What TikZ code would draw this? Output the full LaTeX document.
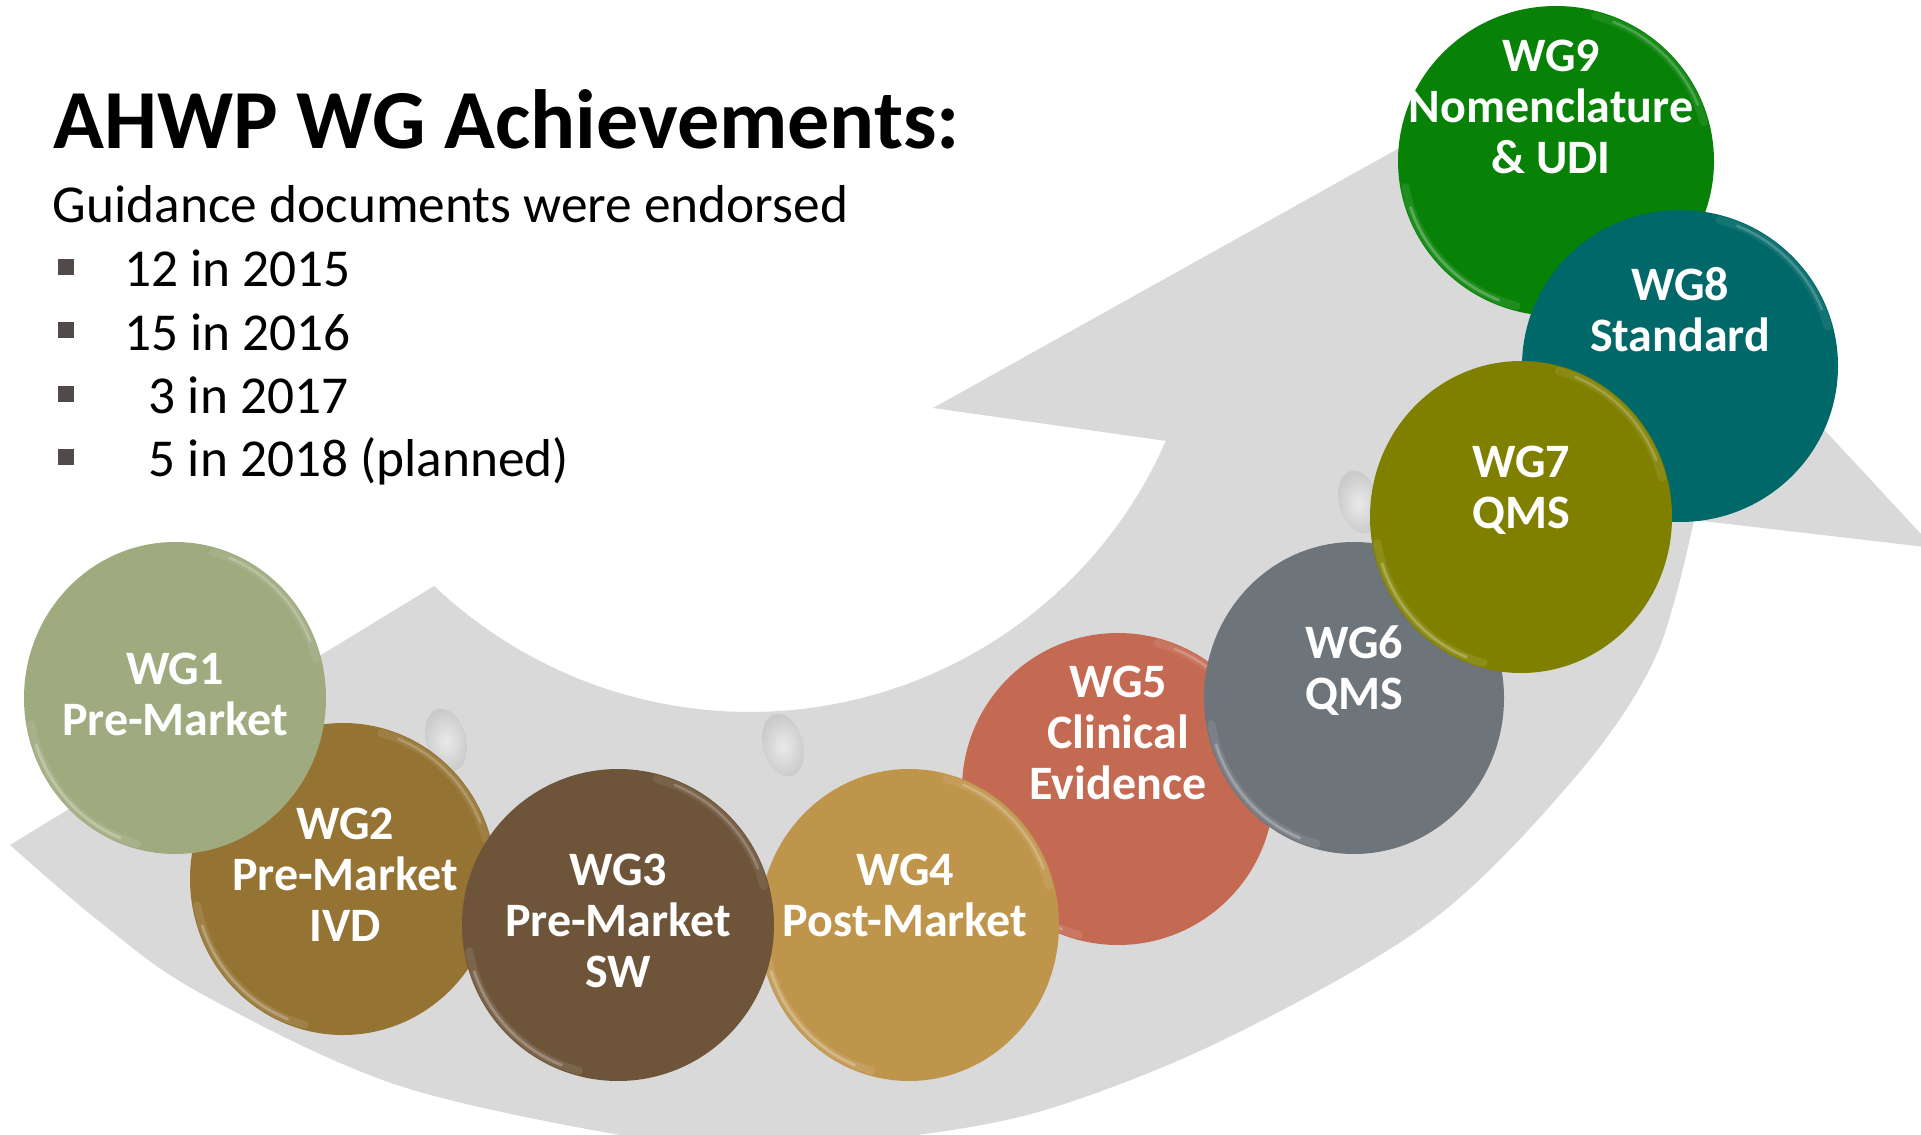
\documentclass[tikz,border=0pt]{standalone}
\usepackage{fontspec}
\setmainfont{Carlito}
\usetikzlibrary{shapes.geometric}
\definecolor{bandgray}{HTML}{D9D9D9}
\definecolor{bulletc}{HTML}{524A48}
\definecolor{cwga}{HTML}{9FAA7E}
\definecolor{cwgb}{HTML}{957333}
\definecolor{cwgc}{HTML}{6E553A}
\definecolor{cwgd}{HTML}{BF954C}
\definecolor{cwge}{HTML}{C56A52}
\definecolor{cwgf}{HTML}{6D747A}
\definecolor{cwgg}{HTML}{808000}
\definecolor{cwgh}{HTML}{006868}
\definecolor{cwgi}{HTML}{078207}
\newcommand\diskrim[4]{%
  \draw[shift={(#1.center)}, line width=6pt, #2!55!white, opacity=.22, line cap=round]
    (105:#3 and #4) arc[start angle=105, end angle=170, x radius=#3, y radius=#4];
  \draw[shift={(#1.center)}, line width=2.2pt, #2!45!white, opacity=.5, line cap=round]
    (112:#3 and #4) arc[start angle=112, end angle=162, x radius=#3, y radius=#4];
  \draw[shift={(#1.center)}, line width=6pt, #2!55!white, opacity=.18, line cap=round]
    (285:#3 and #4) arc[start angle=285, end angle=345, x radius=#3, y radius=#4];
  \draw[shift={(#1.center)}, line width=2pt, #2!45!white, opacity=.4, line cap=round]
    (292:#3 and #4) arc[start angle=292, end angle=338, x radius=#3, y radius=#4];}
\begin{document}
\begin{tikzpicture}[x=0.75pt, y=-0.75pt,
  disk/.style n args={3}{ellipse, draw=none, fill=#1, inner sep=0pt,
      minimum width=#2*1.5pt, minimum height=#3*1.5pt},
  lbl/.style={text=white, font=\fontsize{36}{38.25}\selectfont\bfseries, align=center, inner sep=0pt},
  sq/.style={rectangle, fill=bulletc, minimum size=12pt, inner sep=0pt},
  item/.style={anchor=base west, inner sep=0pt, font=\fontsize{40}{44}\selectfont},
  spot/.style={inner color=white, outer color=white!72!black, opacity=.45}]
\useasboundingbox (0,0) rectangle (1921,1135);

% curved gray arrow
\fill[bandgray] (10,845) -- (434,586)
  -- plot[domain=134.1:24.35, samples=60]
     ({755+(461-10*(134.1-\x)/109.75)*cos(\x)}, {255+(461-10*(134.1-\x)/109.75)*sin(\x)})
  -- (933,408) -- (1507,88) -- (1934,548) -- (1694,520)
  -- plot[smooth, tension=0.55] coordinates {(1694,520) (1656,656) (1577,775) (1431,921)
     (1223,1040) (1038,1112) (878,1140) (766,1147) (655,1141) (400,1086) (200,993) (100,922) (10,845)}
  -- cycle;

% glassy spots on the band
\shade[spot, rotate around={15:(446,740)}] (446,740) ellipse [x radius=20, y radius=32];
\shade[spot, rotate around={15:(783,745)}] (783,745) ellipse [x radius=20, y radius=32];
\shade[spot, rotate around={15:(1359,502)}] (1359,502) ellipse [x radius=20, y radius=32];

% disks (back to front)
\node[disk={cwgi}{158}{155}] (wg9) at (1556,161) {};
\diskrim{wg9}{cwgi}{153}{150}
\node[disk={cwgh}{158}{156}] (wg8) at (1680,366) {};
\diskrim{wg8}{cwgh}{153}{151}
\node[disk={cwge}{156}{156}] (wg5) at (1118,789) {};
\diskrim{wg5}{cwge}{151}{151}
\node[disk={cwgf}{150}{156}] (wg6) at (1354,698) {};
\diskrim{wg6}{cwgf}{145}{151}
\node[disk={cwgg}{151}{156}] (wg7) at (1521,517) {};
\diskrim{wg7}{cwgg}{146}{151}
\node[disk={cwgd}{150}{156}] (wg4) at (909,925) {};
\diskrim{wg4}{cwgd}{145}{151}
\node[disk={cwgb}{153}{156}] (wg2) at (343,879) {};
\diskrim{wg2}{cwgb}{148}{151}
\node[disk={cwgc}{156}{156}] (wg3) at (618,925) {};
\diskrim{wg3}{cwgc}{151}{151}
\node[disk={cwga}{151}{156}] (wg1) at (175,698) {};
\diskrim{wg1}{cwga}{146}{151}

% disk labels
\node[lbl] (l1) at (175,700) {\strut WG1\\\strut Pre-Market};
\node[lbl] (l2) at (345,880.5) {\strut WG2\\\strut Pre-Market\\\strut IVD};
\node[lbl] (l3) at (618,926.3) {\strut WG3\\\strut Pre-Market\\\strut SW};
\node[lbl] (l4) at (905,900.8) {\strut WG4\\\strut Post-Market};
\node[lbl] (l5) at (1118,738.3) {\strut WG5\\\strut Clinical\\\strut Evidence};
\node[lbl] (l6) at (1354,673.3) {\strut WG6\\\strut QMS};
\node[lbl] (l7) at (1521,492.5) {\strut WG7\\\strut QMS};
\node[lbl] (l8) at (1680,315.7) {\strut WG8\\\strut Standard};
\node[lbl] (l9) at (1551,112.3) {\strut WG9\\\strut Nomenclature\\\strut \& UDI};

% heading and list
\node[anchor=base west, inner sep=0pt, font=\fontsize{63}{70}\selectfont\bfseries] (title) at (53,148) {AHWP WG Achievements:};
\node[item] (sub) at (52.5,222) {Guidance documents were endorsed};
\node[sq] (q1) at (66,267) {};
\node[sq] (q2) at (66,330.3) {};
\node[sq] (q3) at (66,393.6) {};
\node[sq] (q4) at (66,457) {};
\node[item] (i1) at (124,286.7) {12 in 2015};
\node[item] (i2) at (124,350) {15 in 2016};
\node[item] (i3) at (148.5,413.3) {3 in 2017};
\node[item] (i4) at (148.5,476.7) {5 in 2018 (planned)};
\end{tikzpicture}
\end{document}
